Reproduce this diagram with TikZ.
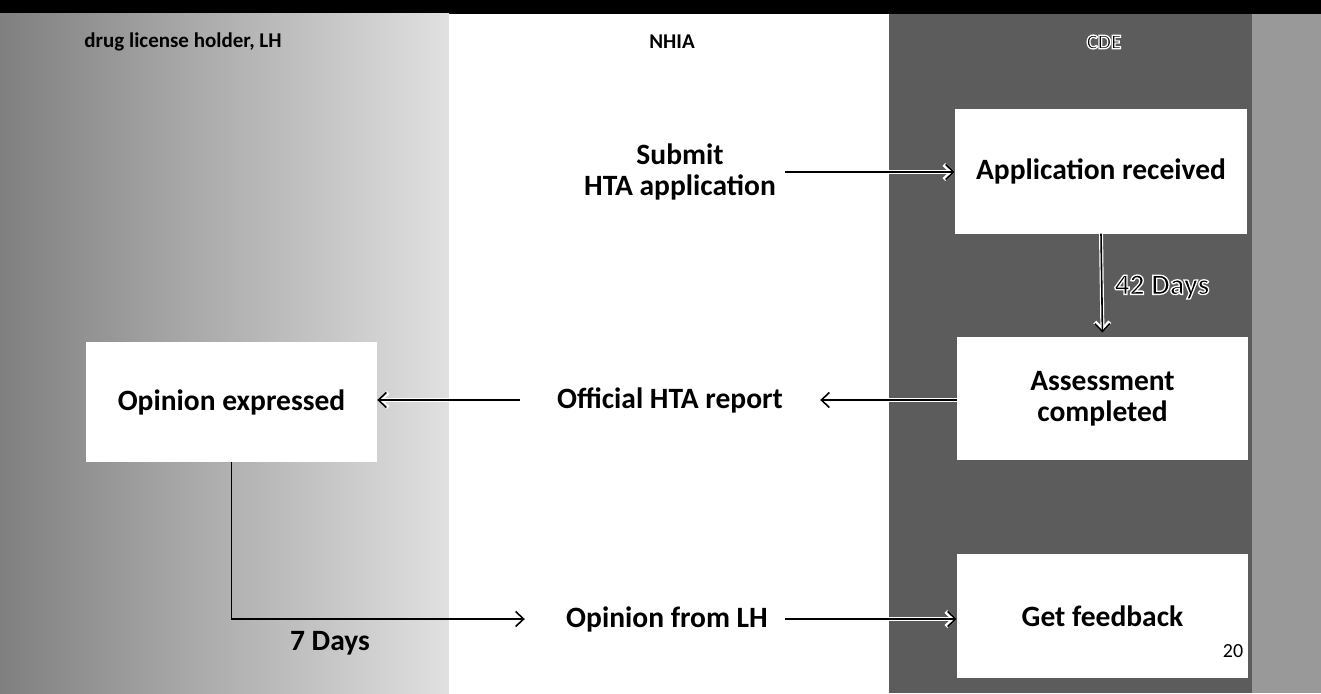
\documentclass[tikz,border=0pt]{standalone}
\usepackage{fontspec}
\setmainfont{Carlito}
\usetikzlibrary{arrows.meta}
\definecolor{lhdark}{gray}{0.50}
\definecolor{lhlight}{gray}{0.88}
\definecolor{cdedark}{gray}{0.36}
\definecolor{cdeedge}{gray}{0.60}
\newcommand{\halotext}[1]{\special{pdf:literal direct 2 Tr 1 1 1 RG 1.3 w}#1\special{pdf:literal direct 0 Tr}}
\tikzset{
  box/.style={rectangle, fill=white, draw=none, minimum width=291pt, minimum height=123pt,
    font=\fontsize{29.5}{31}\selectfont\bfseries, align=center, inner sep=0pt},
  txt/.style={font=\fontsize{29.5}{31}\selectfont\bfseries, align=center, inner sep=0pt},
  head/.style={font=\fontsize{21}{24}\selectfont\bfseries, inner sep=0pt},
  connplain/.style={line width=1.6pt, -{Straight Barb[length=8pt,width=15pt]}},
  conn/.style={connplain,
    preaction={draw=white, line width=4pt, -{Straight Barb[length=8pt,width=15pt]}}}
}
\begin{document}
\begin{tikzpicture}[x=1pt,y=-1pt]
\useasboundingbox (0,0) rectangle (1321,693);
% backgrounds
\fill[black] (0,0) rectangle (1321,14);
\shade[left color=lhdark, right color=lhlight] (0,14) rectangle (449,693);
\fill[white] (449,14) rectangle (889,693);
\fill[cdedark] (889,14) rectangle (1252,693);
\fill[cdeedge] (1252,14) rectangle (1321,693);
% headers
\node[head] (hlh) at (183,42) {drug license holder, LH};
\node[head] (hnhia) at (672,42) {NHIA};
\node[head] (hcde) at (1104,42) {\halotext{CDE}};
% boxes
\node[box, minimum width=292pt, minimum height=125pt] (app) at (1101,171) {Application received};
\node[box] (assess) at (1102.5,398.5) {Assessment\\completed};
\node[box, minimum height=124pt] (feed) at (1102.5,616) {Get feedback};
\node[box, minimum height=120pt] (opexp) at (231.5,402) {Opinion expressed};
% middle texts
\node[txt, minimum width=210pt] (submit) at (680,172) {Submit\\HTA application};
\node[txt, minimum width=300pt] (official) at (670,400) {Official HTA report};
\node[txt, minimum width=236pt] (opfrom) at (667,619) {Opinion from LH};
% labels
\node[txt] (d7) at (330,643) {7 Days};
\node[txt] (d42) at (1162,287) {\halotext{42 Days}};
\node[font=\fontsize{20}{24}\selectfont, inner sep=0pt] (pg) at (1233,651) {20};
% connectors
\draw[conn] (submit.east) -- (submit.east -| app.west);
\draw[conn, shorten >=4pt] (app.south) -- (assess.north);
\draw[conn] (assess.west |- official.east) -- (official.east);
\draw[conn] (official.west) -- (official.west -| opexp.east);
\draw[connplain, shorten >=24pt] (opexp.south) |- (opfrom.west);
\draw[conn] (opfrom.east) -- (opfrom.east -| feed.west);
\end{tikzpicture}
\end{document}
